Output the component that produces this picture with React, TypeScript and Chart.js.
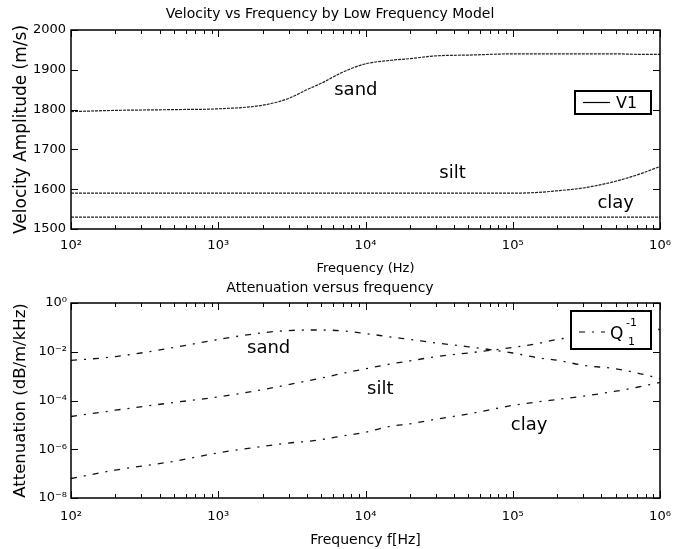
import React, { useEffect, useRef } from 'react';
import { Chart, registerables } from 'chart.js';

Chart.register(...registerables);

// ---------- data ----------
const frequencies = [100, 200, 500, 1000, 2000, 3000, 4000, 5000, 7000, 10000, 15000, 20000, 30000, 50000, 100000, 150000, 200000, 300000, 500000, 700000, 1000000];

const sandVelocity = [1795, 1798, 1800, 1802, 1811, 1828, 1850, 1866, 1894, 1915, 1924, 1928, 1935, 1937, 1940, 1940, 1940, 1940, 1940, 1939, 1939];
const siltVelocity = [1590, 1590, 1590, 1590, 1590, 1590, 1590, 1590, 1590, 1590, 1590, 1590, 1590, 1590, 1590, 1592, 1596, 1603, 1620, 1636, 1657];
const clayVelocity = [1530, 1530, 1530, 1530, 1530, 1530, 1530, 1530, 1530, 1530, 1530, 1530, 1530, 1530, 1530, 1530, 1530, 1530, 1530, 1530, 1530];

const sandAttenuation = [4.4e-3, 6.3e-3, 1.5e-2, 3.2e-2, 6.0e-2, 7.4e-2, 7.8e-2, 7.8e-2, 7.2e-2, 5.6e-2, 4.0e-2, 3.2e-2, 2.3e-2, 1.6e-2, 8.9e-3, 5.6e-3, 4.5e-3, 2.8e-3, 2.0e-3, 1.35e-3, 7.9e-4];
const siltAttenuation = [2.2e-5, 4.0e-5, 8.3e-5, 1.4e-4, 2.8e-4, 4.5e-4, 6.3e-4, 8.3e-4, 1.3e-3, 2.0e-3, 3.2e-3, 4.2e-3, 6.3e-3, 8.9e-3, 1.5e-2, 2.2e-2, 3.2e-2, 4.2e-2, 5.6e-2, 7.1e-2, 8.3e-2];
const clayAttenuation = [6.3e-8, 1.4e-7, 3.2e-7, 7.1e-7, 1.3e-6, 1.8e-6, 2.1e-6, 2.5e-6, 3.5e-6, 5.0e-6, 8.9e-6, 1.1e-5, 1.7e-5, 2.8e-5, 6.3e-5, 8.9e-5, 1.1e-4, 1.5e-4, 2.4e-4, 3.5e-4, 5.5e-4];

const materialNames = ['sand', 'silt', 'clay'];
const velocityLabelFreq = [8600, 39000, 500000];
const velocityLabelValue = [1849, 1639, 1564];
const attenuationLabelFreq = [2200, 12600, 129000];
const attenuationLabelValue = [1.4e-2, 2.8e-4, 9.3e-6];

const freqDecades = [1e2, 1e3, 1e4, 1e5, 1e6];
const velocityTicks = [1500, 1600, 1700, 1800, 1900, 2000];
const attenuationTicks = [1e-8, 1e-6, 1e-4, 1e-2, 1];

const topTitle = 'Velocity vs Frequency by Low Frequency Model';
const topXTitle = 'Frequency (Hz)';
const topYTitle = 'Velocity Amplitude (m/s)';
const topLegend = 'V1';
const bottomTitle = 'Attenuation versus frequency';
const bottomXTitle = 'Frequency f[Hz]';
const bottomYTitle = 'Attenuation (dB/m/kHz)';

// ---------- helpers ----------
const FONT = '"DejaVu Sans", Verdana, sans-serif';
const SUP: Record<string, string> = { '0': '⁰', '1': '¹', '2': '²', '3': '³', '4': '⁴', '5': '⁵', '6': '⁶', '7': '⁷', '8': '⁸', '9': '⁹', '-': '⁻' };
const isPow10 = (v: number) => Math.abs(Math.log10(v) - Math.round(Math.log10(v))) < 1e-9;
const pow10Label = (v: number) => '10' + String(Math.round(Math.log10(v))).split('').map((c) => SUP[c] || c).join('');

const freqTickValues: number[] = [];
freqDecades.forEach((d, i) => {
  freqTickValues.push(d);
  if (i < freqDecades.length - 1) for (let m = 2; m <= 9; m++) freqTickValues.push(d * m);
});

const toPoints = (ys: number[]) => frequencies.map((f, i) => ({ x: f, y: ys[i] }));

const framePlugin = {
  id: 'frameTicks',
  afterDraw(chart: any) {
    const { ctx, chartArea: a, scales } = chart;
    ctx.save();
    ctx.strokeStyle = '#000';
    ctx.setLineDash([]);
    ctx.lineWidth = 1;
    ctx.beginPath();
    scales.x.ticks.forEach((t: any) => {
      const px = Math.round(scales.x.getPixelForValue(t.value)) + 0.5;
      const len = isPow10(t.value) ? 7 : 4;
      ctx.moveTo(px, a.bottom);
      ctx.lineTo(px, a.bottom - len);
      ctx.moveTo(px, a.top);
      ctx.lineTo(px, a.top + len);
    });
    scales.y.ticks.forEach((t: any) => {
      const py = Math.round(scales.y.getPixelForValue(t.value)) + 0.5;
      ctx.moveTo(a.left, py);
      ctx.lineTo(a.left + 7, py);
      ctx.moveTo(a.right, py);
      ctx.lineTo(a.right - 7, py);
    });
    ctx.stroke();
    ctx.lineWidth = 1.5;
    ctx.strokeRect(a.left, a.top, a.right - a.left, a.bottom - a.top);
    ctx.restore();
  },
};

const makeAnnotations = (freqs: number[], values: number[]) => ({
  id: 'materialLabels',
  afterDatasetsDraw(chart: any) {
    const { ctx, scales } = chart;
    ctx.save();
    ctx.fillStyle = '#000';
    ctx.font = `18px ${FONT}`;
    ctx.textAlign = 'center';
    ctx.textBaseline = 'middle';
    materialNames.forEach((n, i) => {
      ctx.fillText(n, scales.x.getPixelForValue(freqs[i]), scales.y.getPixelForValue(values[i]));
    });
    ctx.restore();
  },
});

const topLegendPlugin = {
  id: 'topLegend',
  afterDraw(chart: any) {
    const { ctx, chartArea: a } = chart;
    const x0 = a.right - 85, y0 = a.top + 61, w = 76, h = 23;
    ctx.save();
    ctx.fillStyle = '#fff';
    ctx.fillRect(x0, y0, w, h);
    ctx.strokeStyle = '#000';
    ctx.lineWidth = 2;
    ctx.strokeRect(x0, y0, w, h);
    ctx.lineWidth = 1.2;
    ctx.beginPath();
    ctx.moveTo(x0 + 8, y0 + h / 2);
    ctx.lineTo(x0 + 35, y0 + h / 2);
    ctx.stroke();
    ctx.fillStyle = '#000';
    ctx.font = `16px ${FONT}`;
    ctx.textBaseline = 'middle';
    ctx.textAlign = 'left';
    ctx.fillText(topLegend, x0 + 41, y0 + h / 2 + 1);
    ctx.restore();
  },
};

const bottomLegendPlugin = {
  id: 'bottomLegend',
  afterDraw(chart: any) {
    const { ctx, chartArea: a } = chart;
    const x0 = a.right - 89, y0 = a.top + 8, w = 80, h = 38;
    ctx.save();
    ctx.fillStyle = '#fff';
    ctx.fillRect(x0, y0, w, h);
    ctx.strokeStyle = '#000';
    ctx.lineWidth = 2;
    ctx.strokeRect(x0, y0, w, h);
    ctx.lineWidth = 1.2;
    ctx.setLineDash([6, 7, 2, 7]);
    ctx.beginPath();
    ctx.moveTo(x0 + 8, y0 + 21);
    ctx.lineTo(x0 + 34, y0 + 21);
    ctx.stroke();
    ctx.setLineDash([]);
    ctx.fillStyle = '#000';
    ctx.textBaseline = 'middle';
    ctx.textAlign = 'left';
    ctx.font = `17px ${FONT}`;
    ctx.fillText('Q', x0 + 39, y0 + 24);
    ctx.font = `11px ${FONT}`;
    ctx.fillText('-1', x0 + 55, y0 + 12);
    ctx.fillText('1', x0 + 57, y0 + 31);
    ctx.restore();
  },
};

const commonX = (title: string, height: number, pad: number, titleSize: number, titlePad: number) => ({
  type: 'logarithmic' as const,
  min: 100,
  max: 1e6,
  afterBuildTicks: (s: any) => {
    s.ticks = freqTickValues.map((v) => ({ value: v }));
  },
  afterFit: (s: any) => {
    s.height = height;
  },
  grid: { display: false, drawTicks: false },
  border: { display: false },
  ticks: {
    autoSkip: false,
    maxRotation: 0,
    padding: pad,
    color: '#000',
    font: { size: 13, family: FONT },
    callback: (v: any) => (isPow10(Number(v)) ? pow10Label(Number(v)) : ''),
  },
  title: { display: true, text: title, color: '#000', font: { size: titleSize, family: FONT }, padding: { top: 0, bottom: titlePad } },
});

function TopChart() {
  const ref = useRef<HTMLCanvasElement>(null);
  useEffect(() => {
    const series = [sandVelocity, siltVelocity, clayVelocity];
    const chart = new Chart(ref.current as HTMLCanvasElement, {
      type: 'line',
      data: {
        datasets: series.map((s, i) => ({
          label: materialNames[i],
          data: toPoints(s),
          borderColor: '#222',
          borderWidth: 1.2,
          borderDash: [3, 1],
          pointRadius: 0,
          fill: false,
          cubicInterpolationMode: 'monotone' as const,
        })),
      },
      options: {
        animation: false,
        responsive: false,
        events: [],
        layout: { padding: { left: 0, right: 23, top: 0, bottom: 0 } },
        plugins: {
          legend: { display: false },
          tooltip: { enabled: false },
          title: { display: true, text: topTitle, color: '#000', font: { size: 14, weight: 'normal', family: FONT }, padding: { top: 6, bottom: 7.2 } },
        },
        scales: {
          x: commonX(topXTitle, 49, 9, 13, 2) as any,
          y: {
            type: 'linear',
            min: 1500,
            max: 2000,
            afterBuildTicks: (s: any) => {
              s.ticks = velocityTicks.map((v) => ({ value: v }));
            },
            afterFit: (s: any) => {
              s.width = 71;
            },
            grid: { display: false, drawTicks: false },
            border: { display: false },
            ticks: { padding: 5, color: '#000', font: { size: 13, family: FONT }, callback: (v: any) => String(v) },
            title: { display: true, text: topYTitle, color: '#000', font: { size: 17, family: FONT }, padding: { top: 11, bottom: 0 } },
          },
        },
      },
      plugins: [framePlugin, makeAnnotations(velocityLabelFreq, velocityLabelValue), topLegendPlugin],
    });
    return () => chart.destroy();
  }, []);
  return <canvas ref={ref} width={683} height={278} style={{ position: 'absolute', left: 0, top: 0, display: 'block' }} />;
}

function BottomChart() {
  const ref = useRef<HTMLCanvasElement>(null);
  useEffect(() => {
    const series = [sandAttenuation, siltAttenuation, clayAttenuation];
    const chart = new Chart(ref.current as HTMLCanvasElement, {
      type: 'line',
      data: {
        datasets: series.map((s, i) => ({
          label: materialNames[i],
          data: toPoints(s),
          borderColor: '#111',
          borderWidth: 1.3,
          borderDash: [6, 7, 2, 7],
          pointRadius: 0,
          fill: false,
          cubicInterpolationMode: 'monotone' as const,
        })),
      },
      options: {
        animation: false,
        responsive: false,
        events: [],
        layout: { padding: { left: 0, right: 23, top: 0, bottom: 0 } },
        plugins: {
          legend: { display: false },
          tooltip: { enabled: false },
          title: { display: true, text: bottomTitle, color: '#000', font: { size: 14, weight: 'normal', family: FONT }, padding: { top: 1.6, bottom: 6.6 } },
        },
        scales: {
          x: commonX(bottomXTitle, 51, 11, 14, 0) as any,
          y: {
            type: 'logarithmic',
            min: 1e-8,
            max: 1,
            afterBuildTicks: (s: any) => {
              s.ticks = attenuationTicks.map((v) => ({ value: v }));
            },
            afterFit: (s: any) => {
              s.width = 71;
            },
            grid: { display: false, drawTicks: false },
            border: { display: false },
            ticks: { padding: 4, color: '#000', font: { size: 13, family: FONT }, callback: (v: any) => pow10Label(Number(v)) },
            title: { display: true, text: bottomYTitle, color: '#000', font: { size: 16.5, family: FONT }, padding: { top: 11, bottom: 0 } },
          },
        },
      },
      plugins: [framePlugin, makeAnnotations(attenuationLabelFreq, attenuationLabelValue), bottomLegendPlugin],
    });
    return () => chart.destroy();
  }, []);
  return <canvas ref={ref} width={683} height={271} style={{ position: 'absolute', left: 0, top: 278, display: 'block' }} />;
}

export default function App() {
  return (
    <div style={{ position: 'absolute', left: 0, top: 0, width: 683, height: 549, background: '#fff', overflow: 'hidden' }}>
      <TopChart />
      <BottomChart />
    </div>
  );
}
